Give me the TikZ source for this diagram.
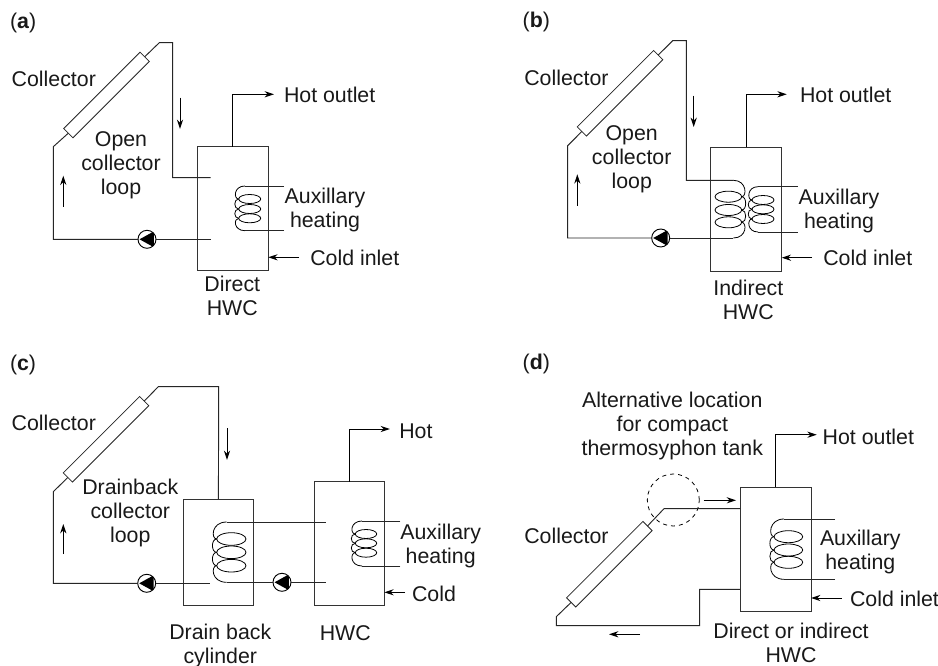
\documentclass[tikz,border=0pt]{standalone}
\usepackage{fontspec}
\setmainfont{Liberation Sans}
\usetikzlibrary{arrows.meta,calc}
\def\px{0.75pt}
\tikzset{
  pipe/.style={line width=0.7pt,color=black!85},
  flow/.style={line width=0.75pt,color=black,-{Stealth[length=7pt,width=4.6pt]}},
  tank/.style={draw=black!80,line width=0.75pt,rectangle,inner sep=0pt,outer sep=0pt},
  panel/.style={draw=black!85,line width=0.6pt,rectangle,rotate=45,minimum width=108*\px,minimum height=13*\px,inner sep=0pt,outer sep=0pt},
  pump/.style={circle,draw=black,line width=0.7pt,fill=white,minimum size=18*\px,inner sep=0pt,outer sep=0pt,
    path picture={\fill[black] ($(path picture bounding box.center)+(-5.6pt,0pt)$) -- ($(path picture bounding box.center)+(5.1pt,5.9pt)$) -- ($(path picture bounding box.center)+(5.1pt,-5.9pt)$) -- cycle;}},
  lab/.style={inner sep=0pt,outer sep=0pt,font=\fontsize{16}{18}\selectfont,text=black!90},
  one/.style={lab,text height=11.5pt,text depth=0pt},
  many/.style={lab,align=center},
  coilline/.style={line width=0.6pt,color=black}
}
% near x, far x, bulge x, start x, y top, y1, y2, y3, y bottom, ry
\newcommand{\coilshape}[9]{%
  \def\cn{#1}\def\cf{#2}\def\cb{#3}\def\cs{#4}%
  \coilrest{#5}{#6}{#7}{#8}{#9}}
\newcommand{\coilrest}[6]{%
  \draw[coilline] (\cs,#1) .. controls (\cb,#1) and (\cb,#2) .. (\cn,#2);
  \draw[coilline] (\cn,#2) .. controls (\cb,#2) and (\cb,#3) .. (\cn,#3);
  \draw[coilline] (\cn,#3) .. controls (\cb,#3) and (\cb,#4) .. (\cn,#4);
  \draw[coilline] (\cn,#4) .. controls (\cb,#4) and (\cb,#5) .. (\cs,#5);
  \foreach \yy in {#2,#3,#4}{
    \draw[coilline] ({(\cn+\cf)/2},\yy) ellipse [x radius={abs(\cf-\cn)/2},y radius=#6];}}
\begin{document}
\begin{tikzpicture}[x=\px,y=-\px]
\useasboundingbox (0,0) rectangle (938,666);
\fill[white] (0,0) rectangle (938,666);

% ---------- (a)
\node[one,anchor=west] (a-tag) at (10,21) {(\textbf{a})};
\node[tank,minimum width=71*\px,minimum height=123.6*\px] (a-tank) at (232.8,208.5) {};
\node[panel] (a-col) at (106.5,95) {};
\node[pump] (a-pump) at (147,239.3) {};
\coordinate (a-c1) at (53.3,146.7);
\coordinate (a-c2) at (159.3,42.7);
\coordinate (a-c3) at (172.7,42.7);
\coordinate (a-c4) at (172.7,177.7);
\coordinate (a-in) at (210.7,177.7);
\coordinate (a-c5) at (53.3,239.3);
\coordinate (a-out) at (210.7,239.3);
\coordinate (a-hot) at (274,94.3);
\coordinate (a-cold) at (299,257.3);
\coordinate (a-wt) at (284,186);
\coordinate (a-wb) at (284,230.7);
\coordinate (a-ct) at (245,186);
\coordinate (a-cb) at (245,230.7);
\coordinate (a-d1) at (180,97.7);
\coordinate (a-d2) at (180,129);
\coordinate (a-u1) at (63.3,206.7);
\coordinate (a-u2) at (63.3,175.7);
\draw[pipe] (a-col.east) -- (a-c2) -- (a-c3) -- (a-c4) -- (a-in);
\draw[pipe] (a-col.west) -- (a-c1) -- (a-c5) -- (a-pump.west);
\draw[pipe] (a-pump.east) -- (a-out);
\draw[pipe] (a-wt) -- (a-ct);
\draw[pipe] (a-wb) -- (a-cb);
\coilshape{238.7}{260.7}{233.5}{245}{186}{199}{209}{218.3}{230.7}{4.5}
\draw[flow] (a-tank.north) |- (a-hot);
\draw[flow] (a-cold) -- (a-tank.east |- a-cold);
\draw[flow] (a-d1) -- (a-d2);
\draw[flow] (a-u1) -- (a-u2);
\node[one,anchor=west] (a-t1) at (11.7,78.7) {Collector};
\node[many] (a-t2) at (121,165) {Open\\collector\\loop};
\node[one,anchor=west] (a-t3) at (284,95) {Hot outlet};
\node[many] (a-t4) at (325,210) {Auxillary\\heating};
\node[one,anchor=west] (a-t5) at (310.3,258) {Cold inlet};
\node[many] (a-t6) at (232.3,295.5) {Direct\\HWC};

% ---------- (b)
\node[one,anchor=west] (b-tag) at (522.7,20) {(\textbf{b})};
\node[tank,minimum width=71*\px,minimum height=124*\px] (b-tank) at (746.2,209.3) {};
\node[panel] (b-col) at (620,93.3) {};
\node[pump] (b-pump) at (660.7,238) {};
\coordinate (b-c1) at (567.7,145.7);
\coordinate (b-c2) at (672.7,40.7);
\coordinate (b-c3) at (686.3,40.7);
\coordinate (b-c4) at (686.3,180.3);
\coordinate (b-in) at (733.3,180.3);
\coordinate (b-c5) at (567.7,238);
\coordinate (b-out) at (733.3,238);
\coordinate (b-hot) at (786.7,94.3);
\coordinate (b-cold) at (812,257.7);
\coordinate (b-wt) at (797.7,186.7);
\coordinate (b-wb) at (797.7,232);
\coordinate (b-ct) at (758,186.7);
\coordinate (b-cb) at (758,232);
\coordinate (b-d1) at (693.7,95.7);
\coordinate (b-d2) at (693.7,127);
\coordinate (b-u1) at (577.3,205.7);
\coordinate (b-u2) at (577.3,174.3);
\draw[pipe] (b-col.east) -- (b-c2) -- (b-c3) -- (b-c4) -- (b-in);
\draw[pipe] (b-col.west) -- (b-c1) -- (b-c5) -- (b-pump.west);
\draw[pipe] (b-pump.east) -- (b-out);
\draw[pipe] (b-wt) -- (b-ct);
\draw[pipe] (b-wb) -- (b-cb);
\coilshape{741.7}{715}{747}{733.3}{180.3}{196.7}{210}{222.3}{238}{5.5}
\coilshape{752}{774}{747}{758}{186.7}{200}{209.3}{219}{232}{4.5}
\draw[flow] (b-tank.north) |- (b-hot);
\draw[flow] (b-cold) -- (b-tank.east |- b-cold);
\draw[flow] (b-d1) -- (b-d2);
\draw[flow] (b-u1) -- (b-u2);
\node[one,anchor=west] (b-t1) at (524.3,77.7) {Collector};
\node[many] (b-t2) at (631.7,159) {Open\\collector\\loop};
\node[one,anchor=west] (b-t3) at (800,95) {Hot outlet};
\node[many] (b-t4) at (839,211) {Auxillary\\heating};
\node[one,anchor=west] (b-t5) at (823.3,258) {Cold inlet};
\node[many] (b-t6) at (748.3,300) {Indirect\\HWC};

% ---------- (c)
\node[one,anchor=west] (c-tag) at (10,363) {(\textbf{c})};
\node[tank,minimum width=70.7*\px,minimum height=106*\px] (c-drain) at (218.4,552.3) {};
\node[tank,minimum width=70.3*\px,minimum height=123.6*\px] (c-tank) at (349.2,543.5) {};
\node[panel] (c-col) at (106,439.3) {};
\node[pump] (c-pump1) at (146.7,583.3) {};
\node[pump] (c-pump2) at (282,582.3) {};
\coordinate (c-c1) at (53.3,491.7);
\coordinate (c-c2) at (158.3,386.7);
\coordinate (c-c3) at (218.7,386.7);
\coordinate (c-c5) at (53.3,583.3);
\coordinate (c-out) at (210,583.3);
\coordinate (c-hot) at (390,429);
\coordinate (c-cold) at (405,592.3);
\coordinate (c-ct) at (226.7,522);
\coordinate (c-cb) at (226.7,582.3);
\coordinate (c-it) at (325.7,522);
\coordinate (c-ib) at (325.7,582.3);
\coordinate (c-wt) at (400.3,521);
\coordinate (c-wb) at (400.3,566);
\coordinate (c-at) at (362,521);
\coordinate (c-ab) at (362,566);
\coordinate (c-d1) at (227,428.3);
\coordinate (c-d2) at (227,460);
\coordinate (c-u1) at (63.3,554);
\coordinate (c-u2) at (63.3,524);
\draw[pipe] (c-col.east) -- (c-c2) -- (c-c3) -- (c-drain.north);
\draw[pipe] (c-col.west) -- (c-c1) -- (c-c5) -- (c-pump1.west);
\draw[pipe] (c-pump1.east) -- (c-out);
\draw[pipe] (c-ct) -- (c-it);
\draw[pipe] (c-cb) -- (c-pump2.west);
\draw[pipe] (c-pump2.east) -- (c-ib);
\draw[pipe] (c-wt) -- (c-at);
\draw[pipe] (c-wb) -- (c-ab);
\coilshape{216.7}{246}{211}{226.7}{522}{539}{552.3}{565.7}{582.3}{6.3}
\coilshape{355.3}{376.7}{350}{362}{521}{534}{543.3}{552.7}{566}{4.5}
\draw[flow] (c-tank.north) |- (c-hot);
\draw[flow] (c-cold) -- (c-tank.east |- c-cold);
\draw[flow] (c-d1) -- (c-d2);
\draw[flow] (c-u1) -- (c-u2);
\node[one,anchor=west] (c-t1) at (11.7,422.7) {Collector};
\node[many] (c-t2) at (130.3,513) {Drainback\\collector\\loop};
\node[one,anchor=west] (c-t3) at (399.3,431) {Hot};
\node[many] (c-t4) at (440.7,546) {Auxillary\\heating};
\node[one,anchor=west] (c-t5) at (412,594) {Cold};
\node[many] (c-t6) at (220.3,646) {Drain back\\cylinder};
\node[one] (c-t7) at (345.3,633.3) {HWC};

% ---------- (d)
\node[one,anchor=west] (d-tag) at (522.7,361.7) {(\textbf{d})};
\node[tank,minimum width=70.7*\px,minimum height=124.3*\px] (d-tank) at (775.65,549.15) {};
\node[panel] (d-col) at (609.3,564.2) {};
\node[circle,draw=black,line width=0.6pt,dashed,minimum size=52*\px,inner sep=0pt,outer sep=0pt] (d-circ) at (673.3,500) {};
\coordinate (d-c1) at (664,508.7);
\coordinate (d-in) at (740.3,508.7);
\coordinate (d-c2) at (556.3,616.7);
\coordinate (d-c3) at (556.3,625.7);
\coordinate (d-c4) at (699.7,625.7);
\coordinate (d-c5) at (699.7,589.3);
\coordinate (d-out) at (740.3,589.3);
\coordinate (d-hot) at (816.7,434.7);
\coordinate (d-cold) at (841.7,598);
\coordinate (d-wt) at (835,519);
\coordinate (d-wb) at (835,579.3);
\coordinate (d-ct) at (784,519);
\coordinate (d-cb) at (784,579.3);
\coordinate (d-a1) at (703.7,500.3);
\coordinate (d-a2) at (736,500.3);
\coordinate (d-l1) at (640,634.3);
\coordinate (d-l2) at (609,634.3);
\draw[pipe] (d-col.east) -- (d-c1) -- (d-in);
\draw[pipe] (d-col.west) -- (d-c2) -- (d-c3) -- (d-c4) -- (d-c5) -- (d-out);
\draw[pipe] (d-wt) -- (d-ct);
\draw[pipe] (d-wb) -- (d-cb);
\coilshape{774}{802.7}{768.5}{784}{519}{536.7}{550}{562.3}{579.3}{6}
\draw[flow] (d-tank.north) |- (d-hot);
\draw[flow] (d-cold) -- (d-tank.east |- d-cold);
\draw[flow] (d-a1) -- (d-a2);
\draw[flow] (d-l1) -- (d-l2);
\node[one,anchor=west] (d-t1) at (524.3,535.7) {Collector};
\node[many] (d-t2) at (672.3,426) {Alternative location\\for compact\\thermosyphon tank};
\node[one,anchor=west] (d-t3) at (822.7,437) {Hot outlet};
\node[many] (d-t4) at (860.3,551.7) {Auxillary\\heating};
\node[one,anchor=west] (d-t5) at (850,599) {Cold inlet};
\node[many] (d-t6) at (791,642.7) {Direct or indirect\\HWC};
\end{tikzpicture}
\end{document}
